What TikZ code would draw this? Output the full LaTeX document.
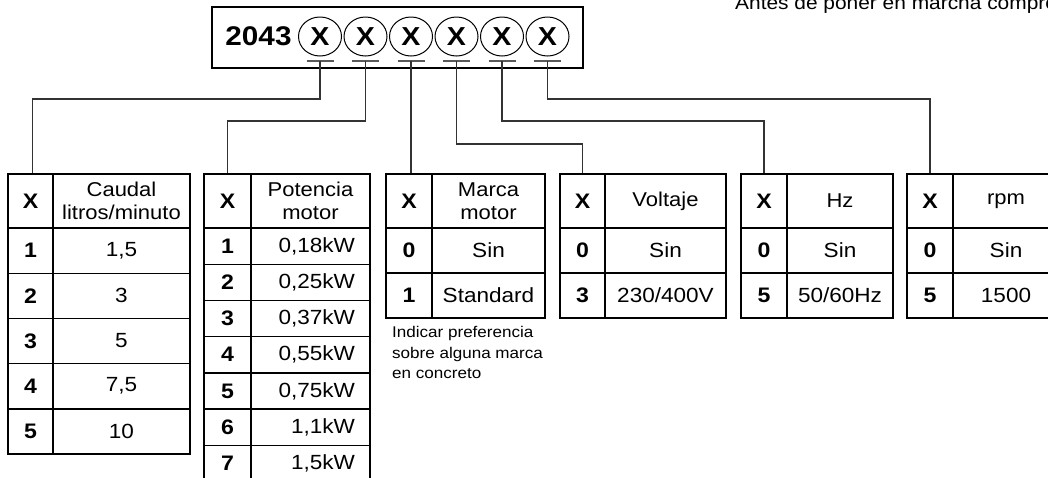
\documentclass[tikz,border=0pt]{standalone}
\usepackage{fontspec}
\setmainfont{Liberation Sans}[FakeStretch=1.1]
\usetikzlibrary{shapes.geometric}

\begin{document}
\begin{tikzpicture}[x=1pt, y=-1pt,
    xcell/.style={draw, line width=1.4pt, inner sep=0pt, minimum width=#1,
      font=\bfseries\fontsize{21}{23}\selectfont},
    hcell/.style={draw, line width=1.4pt, inner sep=0pt, minimum width=#1,
      align=center, font=\fontsize{20}{23}\selectfont},
    vcell/.style={draw, line width=1.4pt, inner sep=0pt, minimum width=#1,
      align=center, font=\fontsize{20.5}{23}\selectfont},
    pcell/.style={draw, line width=1.4pt, inner xsep=15pt, inner ysep=0pt,
      text width=89pt, align=right, minimum height=36.2pt,
      font=\fontsize{20.5}{23}\selectfont},
    codigo/.style={ellipse, draw, line width=1pt, minimum width=43pt,
      minimum height=39pt, inner sep=0pt,
      font=\bfseries\fontsize{26}{28}\selectfont},
    enlace/.style={draw=black!80, line width=1.1pt},
    raya/.style={draw=black!65, line width=1.6pt}]
    \useasboundingbox (0,0) rectangle (1048,477);
    \clip (0,0) rectangle (1048,477);

    % Draw code plate
    \node[draw, line width=1.2pt, minimum width=371pt, minimum height=61pt] (placa) at (397.5,37.5) {};
    \node[font=\bfseries\fontsize{27}{30}\selectfont] (serie) at (258.5,36) {2043};
    \node[codigo] (c1) at (320,36.5) {X};
    \node[codigo] (c2) at (365.5,36.5) {X};
    \node[codigo] (c3) at (411,36.5) {X};
    \node[codigo] (c4) at (456.5,36.5) {X};
    \node[codigo] (c5) at (502,36.5) {X};
    \node[codigo] (c6) at (547.5,36.5) {X};
    \node[anchor=base west, inner sep=0pt, font=\fontsize{19}{22}\selectfont] (aviso) at (735,9) {Antes de poner en marcha compro};

    % Caudal
    \node[xcell=45pt, minimum height=54pt] (t1-x0) at (30.5,201) {X};
    \node[hcell=137pt, minimum height=54pt] (t1-v0) at (121.5,201) {Caudal\\litros/minuto};
    \node[xcell=45pt, minimum height=45.2pt] (t1-x1) at (30.5,250.6) {1};
    \node[vcell=137pt, minimum height=45.2pt] (t1-v1) at (121.5,250.6) {1,5};
    \node[xcell=45pt, minimum height=45.2pt] (t1-x2) at (30.5,295.8) {2};
    \node[vcell=137pt, minimum height=45.2pt] (t1-v2) at (121.5,295.8) {3};
    \node[xcell=45pt, minimum height=45.2pt] (t1-x3) at (30.5,341) {3};
    \node[vcell=137pt, minimum height=45.2pt] (t1-v3) at (121.5,341) {5};
    \node[xcell=45pt, minimum height=45.2pt] (t1-x4) at (30.5,386.2) {4};
    \node[vcell=137pt, minimum height=45.2pt] (t1-v4) at (121.5,386.2) {7,5};
    \node[xcell=45pt, minimum height=45.2pt] (t1-x5) at (30.5,431.4) {5};
    \node[vcell=137pt, minimum height=45.2pt] (t1-v5) at (121.5,431.4) {10};

    % Potencia motor
    \node[xcell=47pt, minimum height=54pt] (t2-x0) at (227.5,201) {X};
    \node[hcell=119pt, minimum height=54pt] (t2-v0) at (310.5,201) {Potencia\\motor};
    \node[xcell=47pt, minimum height=36.2pt] (t2-x1) at (227.5,246.1) {1};
    \node[pcell] (t2-v1) at (310.5,246.1) {0,18kW};
    \node[xcell=47pt, minimum height=36.2pt] (t2-x2) at (227.5,282.3) {2};
    \node[pcell] (t2-v2) at (310.5,282.3) {0,25kW};
    \node[xcell=47pt, minimum height=36.2pt] (t2-x3) at (227.5,318.5) {3};
    \node[pcell] (t2-v3) at (310.5,318.5) {0,37kW};
    \node[xcell=47pt, minimum height=36.2pt] (t2-x4) at (227.5,354.7) {4};
    \node[pcell] (t2-v4) at (310.5,354.7) {0,55kW};
    \node[xcell=47pt, minimum height=36.2pt] (t2-x5) at (227.5,390.9) {5};
    \node[pcell] (t2-v5) at (310.5,390.9) {0,75kW};
    \node[xcell=47pt, minimum height=36.2pt] (t2-x6) at (227.5,427.1) {6};
    \node[pcell] (t2-v6) at (310.5,427.1) {1,1kW};
    \node[xcell=47pt, minimum height=36.2pt] (t2-x7) at (227.5,463.3) {7};
    \node[pcell] (t2-v7) at (310.5,463.3) {1,5kW};

    % Marca motor
    \node[xcell=46pt, minimum height=54pt] (t3-x0) at (409,201) {X};
    \node[hcell=113pt, minimum height=54pt] (t3-v0) at (488.5,201) {Marca\\motor};
    \node[xcell=46pt, minimum height=45pt] (t3-x1) at (409,250.5) {0};
    \node[vcell=113pt, minimum height=45pt] (t3-v1) at (488.5,250.5) {Sin};
    \node[xcell=46pt, minimum height=45pt] (t3-x2) at (409,295.5) {1};
    \node[vcell=113pt, minimum height=45pt] (t3-v2) at (488.5,295.5) {Standard};
    \node[anchor=north west, inner sep=0pt, align=left, font=\fontsize{15.5}{20.5}\selectfont] (nota) at (392,326.5) {Indicar preferencia\\sobre alguna marca\\en concreto};

    % Voltaje
    \node[xcell=45pt, minimum height=54pt] (t4-x0) at (582.5,201) {X};
    \node[hcell=121pt, minimum height=54pt] (t4-v0) at (665.5,201) {Voltaje};
    \node[xcell=45pt, minimum height=45pt] (t4-x1) at (582.5,250.5) {0};
    \node[vcell=121pt, minimum height=45pt] (t4-v1) at (665.5,250.5) {Sin};
    \node[xcell=45pt, minimum height=45pt] (t4-x2) at (582.5,295.5) {3};
    \node[vcell=121pt, minimum height=45pt] (t4-v2) at (665.5,295.5) {230/400V};

    % Hz
    \node[xcell=46pt, minimum height=54pt] (t5-x0) at (764,201) {X};
    \node[hcell=106pt, minimum height=54pt] (t5-v0) at (840,201) {Hz};
    \node[xcell=46pt, minimum height=45pt] (t5-x1) at (764,250.5) {0};
    \node[vcell=106pt, minimum height=45pt] (t5-v1) at (840,250.5) {Sin};
    \node[xcell=46pt, minimum height=45pt] (t5-x2) at (764,295.5) {5};
    \node[vcell=106pt, minimum height=45pt] (t5-v2) at (840,295.5) {50/60Hz};

    % rpm
    \node[xcell=46pt, minimum height=54pt] (t6-x0) at (930,201) {X};
    \node[hcell=106pt, minimum height=54pt] (t6-v0) at (1006,201) {rpm};
    \node[xcell=46pt, minimum height=45pt] (t6-x1) at (930,250.5) {0};
    \node[vcell=106pt, minimum height=45pt] (t6-v1) at (1006,250.5) {Sin};
    \node[xcell=46pt, minimum height=45pt] (t6-x2) at (930,295.5) {5};
    \node[vcell=106pt, minimum height=45pt] (t6-v2) at (1006,295.5) {1500};

    % Draw connections
    \coordinate (k1) at (320,61);
    \coordinate (k2) at (365.5,61);
    \coordinate (k3) at (411,61);
    \coordinate (k4) at (456.5,61);
    \coordinate (k5) at (502,61);
    \coordinate (k6) at (547.5,61);
    \draw[raya] ([xshift=-13.5pt]k1) -- ([xshift=13.5pt]k1);
    \draw[raya] ([xshift=-13.5pt]k2) -- ([xshift=13.5pt]k2);
    \draw[raya] ([xshift=-13.5pt]k3) -- ([xshift=13.5pt]k3);
    \draw[raya] ([xshift=-13.5pt]k4) -- ([xshift=13.5pt]k4);
    \draw[raya] ([xshift=-13.5pt]k5) -- ([xshift=13.5pt]k5);
    \draw[raya] ([xshift=-13.5pt]k6) -- ([xshift=13.5pt]k6);
    \draw[enlace] (k1) -- (k1 |- 0,99) -| ([xshift=2pt]t1-x0.north);
    \draw[enlace] (k2) -- (k2 |- 0,121) -| (t2-x0.north);
    \draw[enlace] (k3) -- (k3 |- t3-x0.north);
    \draw[enlace] (k4) -- (k4 |- 0,144) -| (t4-x0.north);
    \draw[enlace] (k5) -- (k5 |- 0,121) -| (t5-x0.north);
    \draw[enlace] (k6) -- (k6 |- 0,99) -| (t6-x0.north);
\end{tikzpicture}
\end{document}
